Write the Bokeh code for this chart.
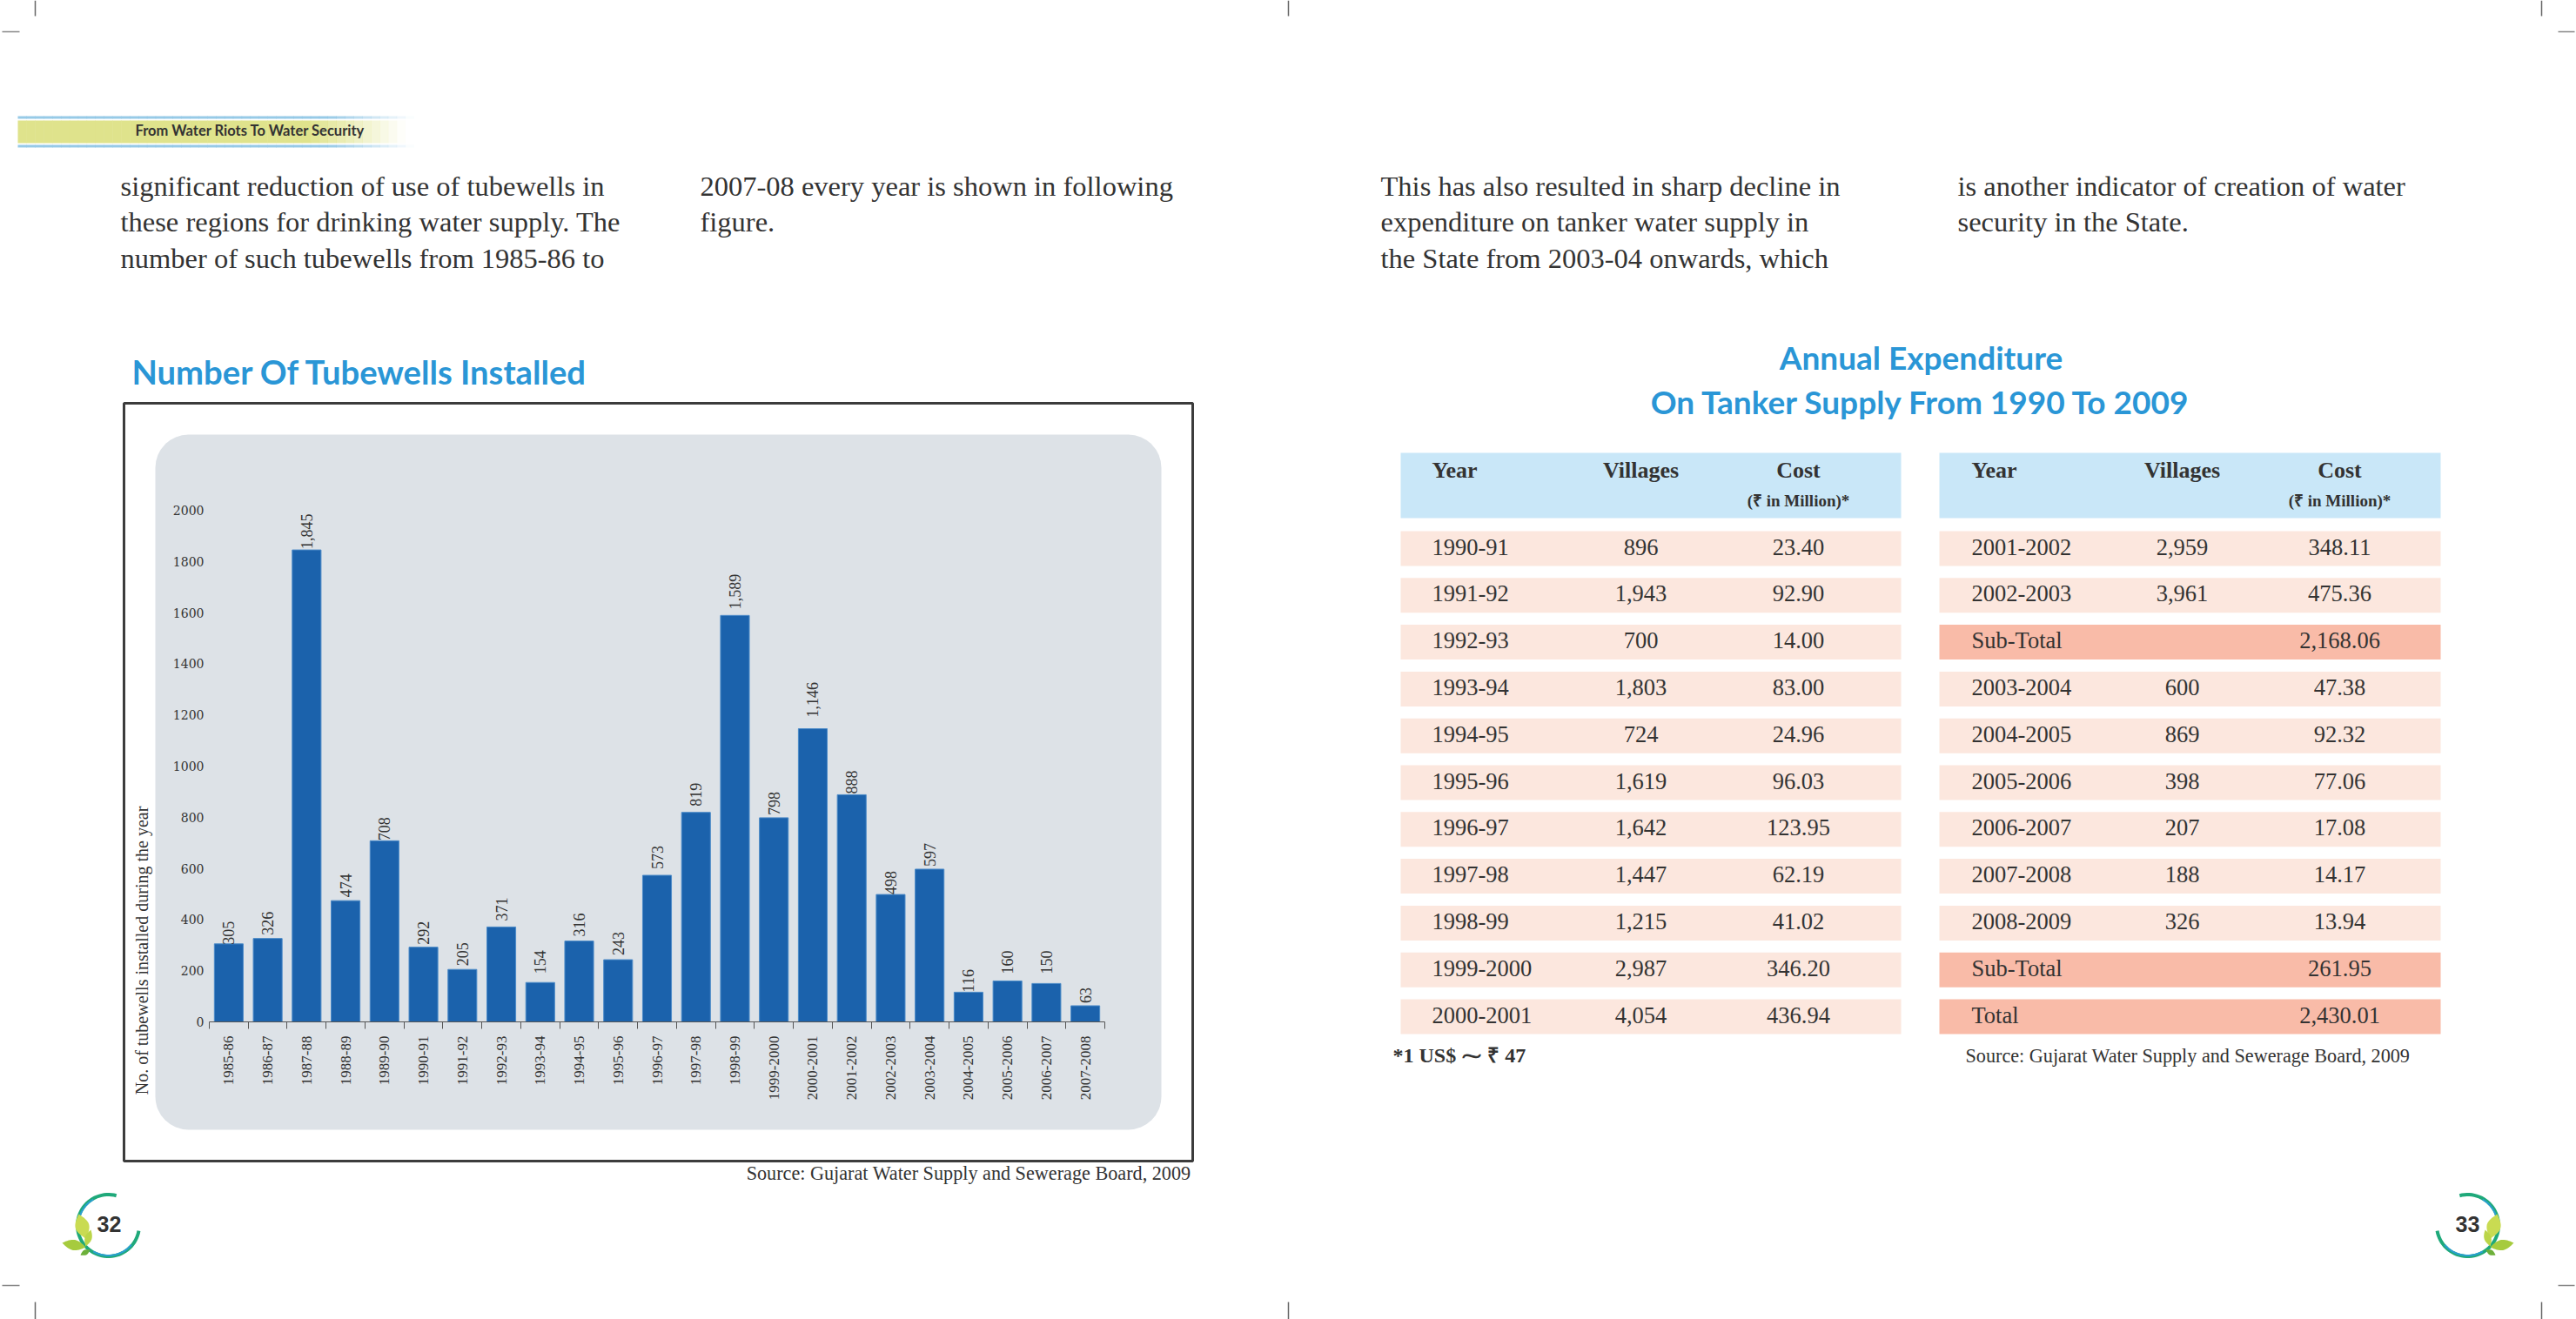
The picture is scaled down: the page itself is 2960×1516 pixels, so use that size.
import math
from bokeh.embed import file_html
from bokeh.resources import INLINE
from bokeh.layouts import row
from bokeh.models import ColumnDataSource, FixedTicker, LinearAxis, Range1d
from bokeh.plotting import figure
from bokeh.core.properties import value

# ---------- chart data ----------
seasons = ["1985-86", "1986-87", "1987-88", "1988-89", "1989-90", "1990-91", "1991-92", "1992-93",
           "1993-94", "1994-95", "1995-96", "1996-97", "1997-98", "1998-99", "1999-2000", "2000-2001",
           "2001-2002", "2002-2003", "2003-2004", "2004-2005", "2005-2006", "2006-2007", "2007-2008"]
tubewells = [305, 326, 1845, 474, 708, 292, 205, 371, 154, 316, 243, 573, 819, 1589, 798, 1146,
             888, 498, 597, 116, 160, 150, 63]
y_ticks = [0, 200, 400, 600, 800, 1000, 1200, 1400, 1600, 1800, 2000]

# ---------- table data ----------
table_head = ["Year", "Villages", "Cost"]
table_unit = "(₹ in Million)*"
years_a = ["1990-91", "1991-92", "1992-93", "1993-94", "1994-95", "1995-96", "1996-97", "1997-98",
           "1998-99", "1999-2000", "2000-2001"]
villages_a = ["896", "1,943", "700", "1,803", "724", "1,619", "1,642", "1,447", "1,215", "2,987", "4,054"]
cost_a = ["23.40", "92.90", "14.00", "83.00", "24.96", "96.03", "123.95", "62.19", "41.02", "346.20", "436.94"]
years_b = ["2001-2002", "2002-2003", "Sub-Total", "2003-2004", "2004-2005", "2005-2006", "2006-2007",
           "2007-2008", "2008-2009", "Sub-Total", "Total"]
villages_b = ["2,959", "3,961", "", "600", "869", "398", "207", "188", "326", "", ""]
cost_b = ["348.11", "475.36", "2,168.06", "47.38", "92.32", "77.06", "17.08", "14.17", "13.94", "261.95", "2,430.01"]

# ---------- page text ----------
left_col1 = ["significant reduction of use of tubewells in", "these regions for drinking water supply. The",
             "number of such tubewells from 1985-86 to"]
left_col2 = ["2007-08 every year is shown in following", "figure."]
right_col1 = ["This has also resulted in sharp decline in", "expenditure on tanker water supply in",
              "the State from 2003-04 onwards, which"]
right_col2 = ["is another indicator of creation of water", "security in the State."]
source_text = "Source: Gujarat Water Supply and Sewerage Board, 2009"

# ---------- layout (page pixels) ----------
PAGE_W, PAGE_H = 2960, 1516
FL, FR, FT, FB = 240, 1269, 586, 1174
SERIF = "Liberation Serif"
INK = "#333333"
BLUE = "#2A96D6"
BODY = 32.5
# how far each value label sits above its bar in the original (px)
label_lift = [-1, 4, 1, 4, 0, 3, 4, 7, 10, 5, 5, 7, 7, 7, 3, 13, 1, 0, 3, 0, 8, 11, 3]

# ---------- page underlay: everything around the chart ----------
q = figure(width=PAGE_W, height=PAGE_H, output_backend="svg", toolbar_location=None,
           x_range=Range1d(0, PAGE_W), y_range=Range1d(PAGE_H, 0), min_border=0,
           background_fill_color="white", border_fill_color="white", outline_line_color=None,
           x_axis_type=None, y_axis_type=None, frame_align=False)
q.grid.visible = False


def txt(xs, ys, texts, size, align="left", color=INK, font=SERIF, style="normal", angle=0):
    q.text(x=xs, y=ys, text=texts, text_font=value(font), text_font_size=f"{size}px", angle=angle,
           text_align=align, text_baseline="middle", text_color=color, text_font_style=style)


# chart frame and panel
q.quad(left=142, right=1370, top=463, bottom=1334, fill_color="white", line_color="#3c3c3c", line_width=3)
q.quad(left=178, right=1334, top=499, bottom=1298, fill_color="#DDE2E7", line_color=None, border_radius=38)

txt([162], [1092], ["No. of tubewells installed during the year"], 20, angle=math.pi / 2, align="center")
txt([1368], [1348], [source_text], 22.2, align="right")
txt([151], [426], ["Number Of Tubewells Installed"], 38.2, color=BLUE, font="Lato", style="bold")

LINE = 41.5
txt([138] * 3, [213 + i * LINE for i in range(3)], left_col1, BODY)
txt([804] * 2, [213 + i * LINE for i in range(2)], left_col2, BODY)
txt([1586] * 3, [213 + i * LINE for i in range(3)], right_col1, BODY)
txt([2249] * 2, [213 + i * LINE for i in range(2)], right_col2, BODY)

# running head band
n = 46
step = (475 - 20) / n
lefts = [20 + k * step for k in range(n)]
rights = [v + step + 0.5 for v in lefts]
fades = [min(1.0, max(0.0, (470 - v) / 110)) for v in rights]
line_fades = [min(0.9, max(0.0, (480 - v) / 110)) for v in rights]
q.quad(left=lefts, right=rights, top=138, bottom=164, fill_color="#DFE38C", fill_alpha=fades, line_color=None)
q.quad(left=lefts, right=rights, top=133, bottom=136, fill_color="#8CC4E4", fill_alpha=line_fades, line_color=None)
q.quad(left=lefts, right=rights, top=166, bottom=169, fill_color="#8CC4E4", fill_alpha=line_fades, line_color=None)
txt([155], [149], ["From Water Riots To Water Security"], 16.5, font="Lato", style="bold")

# crop marks
for x in (40, 1480, 2920):
    q.segment(x0=[x, x], y0=[0, 1496], x1=[x, x], y1=[18, 1516], line_color="#666666", line_width=1.5)
for x0, x1 in ((2, 22), (2939, 2958)):
    q.segment(x0=[x0, x0], y0=[36, 1477], x1=[x1, x1], y1=[36, 1477], line_color="#888888", line_width=1.5)


def leaf(x0, y0, x1, y1, w, cx, mirror):
    L = math.hypot(x1 - x0, y1 - y0)
    nx, ny = -(y1 - y0) / L, (x1 - x0) / L
    ts = [i / 16 for i in range(17)]
    xs = [x0 + (x1 - x0) * t + nx * w * math.sin(math.pi * t) for t in ts]
    ys = [y0 + (y1 - y0) * t + ny * w * math.sin(math.pi * t) for t in ts]
    xs += [x0 + (x1 - x0) * t - nx * w * math.sin(math.pi * t) for t in reversed(ts)]
    ys += [y0 + (y1 - y0) * t - ny * w * math.sin(math.pi * t) for t in reversed(ts)]
    if mirror:
        xs = [2 * cx - v for v in xs]
    return xs, ys


def ring(cx, cy, r0, r1, a0, a1, mirror, color):
    ang = [math.radians(a0 + (a1 - a0) * i / 60) for i in range(61)]
    xs = [cx + r1 * math.cos(a) for a in ang] + [cx + r0 * math.cos(a) for a in reversed(ang)]
    ys = [cy - r1 * math.sin(a) for a in ang] + [cy - r0 * math.sin(a) for a in reversed(ang)]
    if mirror:
        xs = [2 * cx - v for v in xs]
    q.patch(xs, ys, fill_color=color, line_color=None)


def emblem(cx, cy, mirror):
    for (a0, a1, col, r0, r1) in [(75, 350, "#1FA97A", 33.5, 37.5), (120, 180, "#2A9FD0", 33.5, 35.5),
                                  (240, 320, "#2A9FD0", 33.5, 35.5)]:
        ring(cx, cy, r0, r1, a0, a1, mirror, col)
    for (dx0, dy0, dx1, dy1, w, col) in [(-34, -13, -26, 15, 8, "#C9DB52"), (-20, 5, -26, 24, 4, "#BBD548"),
                                         (-53, 20, -26, 25, 6, "#A6CB3E"), (-32, 34, -21, 28, 3, "#6DB03A")]:
        xs, ys = leaf(cx + dx0, cy + dy0, cx + dx1, cy + dy1, w, cx, mirror)
        q.patch(xs, ys, fill_color=col, line_color=None)


emblem(124, 1408, False)
emblem(2835, 1408, True)
txt([125, 2835], [1406, 1406], ["32", "33"], 25, align="center", font="Liberation Sans", style="bold")

# tables
ROW0, PITCH, ROWH = 630, 53.8, 40
TEXT_UP = 2
PEACH, SALMON, SKY = "#FCE7DE", "#F9BBA8", "#C9E7F8"


def table(left, right, xc_year, xc_vill, xc_cost, years, villages, costs):
    ys = [ROW0 + i * PITCH for i in range(len(years))]
    ty = [y - TEXT_UP for y in ys]
    colors = [SALMON if "Total" in y else PEACH for y in years]
    q.quad(left=left, right=right, top=520, bottom=595, fill_color=SKY, line_color=None)
    q.quad(left=[left] * len(ys), right=[right] * len(ys), top=[y - ROWH / 2 for y in ys],
           bottom=[y + ROWH / 2 for y in ys], fill_color=colors, line_color=None)
    txt([xc_year], [540], [table_head[0]], 26, style="bold")
    txt([xc_vill], [540], [table_head[1]], 26, align="center", style="bold")
    txt([xc_cost], [540], [table_head[2]], 26, align="center", style="bold")
    txt([xc_cost], [575], [table_unit], 19, align="center", style="bold")
    txt([xc_year] * len(ys), ty, years, 26.5)
    txt([xc_vill] * len(ys), ty, villages, 26.5, align="center")
    txt([xc_cost] * len(ys), ty, costs, 26.5, align="center")


table(1609, 2184, 1645, 1885, 2066, years_a, villages_a, cost_a)
table(2228, 2804, 2265, 2507, 2688, years_b, villages_b, cost_b)

txt([1600], [1212], ["*1 US$ ⁓ ₹ 47"], 24, style="bold")
txt([2258], [1213], [source_text], 22.2)
txt([2207, 2207], [410, 461], ["Annual Expenditure", "On Tanker Supply From 1990 To 2009"], 37,
    align="center", color=BLUE, font="Lato", style="bold")

# ---------- the bar chart, laid exactly over the panel ----------
p = figure(width=PAGE_W, height=PAGE_H, output_backend="svg", toolbar_location=None,
           x_range=Range1d(0, len(seasons)), y_range=Range1d(y_ticks[0], y_ticks[-1]),
           min_border_left=FL, min_border_right=PAGE_W - FR, min_border_top=FT,
           min_border_bottom=PAGE_H - FB, background_fill_color=None, border_fill_color=None,
           outline_line_color=None, x_axis_type=None, y_axis_type=None, frame_align=False,
           margin=(0, 0, 0, -PAGE_W))

xaxis = LinearAxis(ticker=FixedTicker(ticks=[i + 0.5 for i in range(len(seasons))],
                                      minor_ticks=list(range(len(seasons) + 1))),
                   major_label_overrides={i + 0.5: s for i, s in enumerate(seasons)},
                   major_label_orientation=math.pi / 2, major_label_standoff=8,
                   major_tick_line_color=None, major_tick_in=0, major_tick_out=0,
                   minor_tick_in=0, minor_tick_out=8,
                   minor_tick_line_color="#555555", axis_line_color="#555555",
                   major_label_text_font=SERIF, major_label_text_font_size="17px",
                   major_label_text_color=INK)
yaxis = LinearAxis(ticker=FixedTicker(ticks=y_ticks), axis_line_color=None, major_tick_line_color=None,
                   major_tick_in=0, major_tick_out=0, minor_tick_line_color=None, major_label_standoff=6,
                   major_label_text_font="DejaVu Serif", major_label_text_font_size="14px",
                   major_label_text_color=INK)
p.add_layout(xaxis, "below")
p.add_layout(yaxis, "left")
p.ygrid.ticker = FixedTicker(ticks=y_ticks)
p.ygrid.grid_line_color = "#6f7275"
p.xgrid.visible = False

src = ColumnDataSource(dict(x=[i + 0.5 for i in range(len(seasons))], top=tubewells,
                            label=[f"{v:,}" for v in tubewells], lift=[-v for v in label_lift]))
p.vbar(x="x", top="top", bottom=0, width=0.74, source=src, fill_color="#1B62AC", line_color="#4C8BC8",
       line_width=1)
p.text(x="x", y="top", text="label", source=src, angle=math.pi / 2, y_offset="lift", text_align="left",
       text_baseline="middle", text_font=value(SERIF), text_font_size="18px", text_color=INK)

open("out.html", "w").write(file_html(row(q, p), INLINE))
